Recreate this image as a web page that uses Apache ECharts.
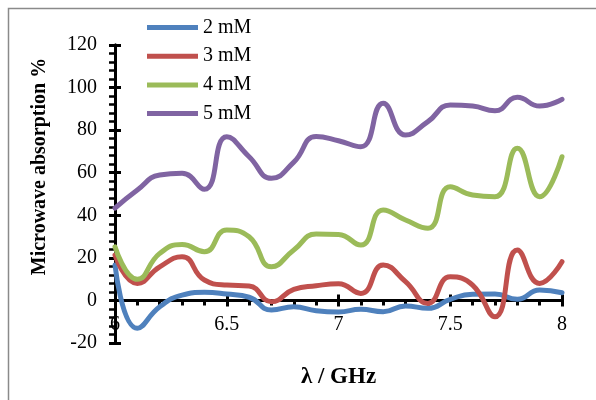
<!DOCTYPE html>
<html>
<head>
<meta charset="utf-8">
<script src="https://cdn.jsdelivr.net/npm/echarts@6/dist/echarts.min.js"></script>
<style>html,body{margin:0;padding:0;background:#fff}#c{width:596px;height:400px}</style>
</head>
<body>
<div id="c"></div>
<script>
const freqs = [6.0,6.1,6.2,6.3,6.4,6.5,6.6,6.7,6.8,6.9,7.0,7.1,7.2,7.3,7.4,7.5,7.6,7.7,7.8,7.9,8.0];
const s2mM = [16.6,-13.1,-3.0,2.5,3.8,3.0,1.5,-4.5,-3.0,-4.8,-5.4,-4.2,-5.3,-2.6,-3.7,0.5,2.9,3.0,0.5,4.9,3.6];
const s3mM = [21.3,8.0,15.8,20.5,9.6,7.2,6.8,-0.6,5.2,6.9,7.8,3.3,16.6,8.8,-1.4,11.1,7.2,-7.7,23.7,8.0,18.2];
const s4mM = [25.2,9.9,22.1,26.3,22.9,33.1,29.9,15.8,23.7,31.2,31.0,26.0,42.5,37.8,33.9,53.4,49.5,48.7,71.5,48.7,67.5];
const s5mM = [43.4,51.9,58.9,59.7,52.2,76.9,67.5,57.4,65.0,77.0,75.0,72.2,92.6,77.7,84.0,91.8,91.3,89.1,95.4,91.3,94.5];
const seriesNames = ['2 mM','3 mM','4 mM','5 mM'];
const seriesData = [s2mM, s3mM, s4mM, s5mM];
const colors = ['#4F81BD','#C0504D','#9BBB59','#8064A2'];
const xTitle = 'λ / GHz';
const yTitle = 'Microwave absorption %';
const X_MIN = 6, X_MAX = 8, X_INT = 0.5;
const Y_MIN = -20, Y_MAX = 120, Y_INT = 20;

const FONT = '"Liberation Serif", "Times New Roman", serif';
const chart = echarts.init(document.getElementById('c'), null, {renderer:'canvas'});

const gridRect = {left:115, top:45, width:447, height:298, containLabel:false, outerBoundsMode:'none'};
// move the x axis line up from the grid bottom to the y = 0 position
const zeroOffset = -gridRect.height * (0 - Y_MIN) / (Y_MAX - Y_MIN);

const option = {
  animation:false,
  backgroundColor:'#fff',
  grid: [Object.assign({}, gridRect), Object.assign({}, gridRect)],
  legend: {
    orient:'vertical', left:147, top:17.5, padding:0,
    itemWidth:51, itemHeight:5, itemGap:8.7, icon:'rect',
    data: seriesNames,
    textStyle:{fontFamily:FONT, fontSize:20, color:'#000', lineHeight:20}
  },
  xAxis: [
    {gridIndex:0, type:'value', min:X_MIN, max:X_MAX, interval:X_INT, position:'bottom', offset:zeroOffset,
     axisLine:{onZero:false, lineStyle:{color:'#000', width:3}},
     axisTick:{show:true, inside:false, length:6, lineStyle:{color:'#000', width:3}},
     minorTick:{show:true, splitNumber:5, length:5, lineStyle:{color:'#000', width:3}},
     splitLine:{show:false},
     axisLabel:{fontFamily:FONT, fontSize:20, color:'#000', margin:14,
       formatter: v => String(v)},
     name: xTitle, nameLocation:'middle', nameGap:65,
     nameTextStyle:{fontFamily:FONT, fontSize:23, fontWeight:'bold', color:'#000'}
    },
    {gridIndex:1, type:'value', min:X_MIN, max:X_MAX, interval:X_INT, position:'bottom', offset:zeroOffset,
     axisLine:{onZero:false, lineStyle:{color:'#000', width:3}},
     axisTick:{show:true, inside:true, length:6, lineStyle:{color:'#000', width:3}},
     splitLine:{show:false}, axisLabel:{show:false}
    }
  ],
  yAxis: [
    {gridIndex:0, type:'value', min:Y_MIN, max:Y_MAX, interval:Y_INT,
     axisLine:{show:true, onZero:false, lineStyle:{color:'#000', width:3}},
     axisTick:{show:true, inside:false, length:6, lineStyle:{color:'#000', width:3}},
     minorTick:{show:true, splitNumber:5, length:6, lineStyle:{color:'#000', width:2.5}},
     splitLine:{show:false},
     axisLabel:{fontFamily:FONT, fontSize:20, color:'#000', margin:18}
    },
    {gridIndex:1, type:'value', min:Y_MIN, max:Y_MAX, interval:Y_INT,
     axisLine:{show:true, onZero:false, lineStyle:{color:'#000', width:3}},
     axisTick:{show:true, inside:true, length:6, lineStyle:{color:'#000', width:3}},
     splitLine:{show:false}, axisLabel:{show:false}
    }
  ],
  graphic: [
    {type:'rect', shape:{x:8.5, y:8.5, width:800, height:800}, silent:true, z:-10,
     style:{fill:'none', stroke:'#8a8a8a', lineWidth:1.5}},
    {type:'text', x:40, y:166.5, rotation:Math.PI/2,
     style:{text:yTitle, font:'bold 20px ' + FONT, fill:'#000', textAlign:'center', textVerticalAlign:'middle'}}
  ],
  series: seriesNames.map((n,i) => ({
    name:n, type:'line', xAxisIndex:0, yAxisIndex:0,
    data: freqs.map((f,j) => [f, seriesData[i][j]]),
    smooth:0.5, symbol:'none', showSymbol:false,
    color: colors[i],
    lineStyle:{width:5, color:colors[i], cap:'round'},
    z: 2
  }))
};
chart.setOption(option);
</script>
</body>
</html>
